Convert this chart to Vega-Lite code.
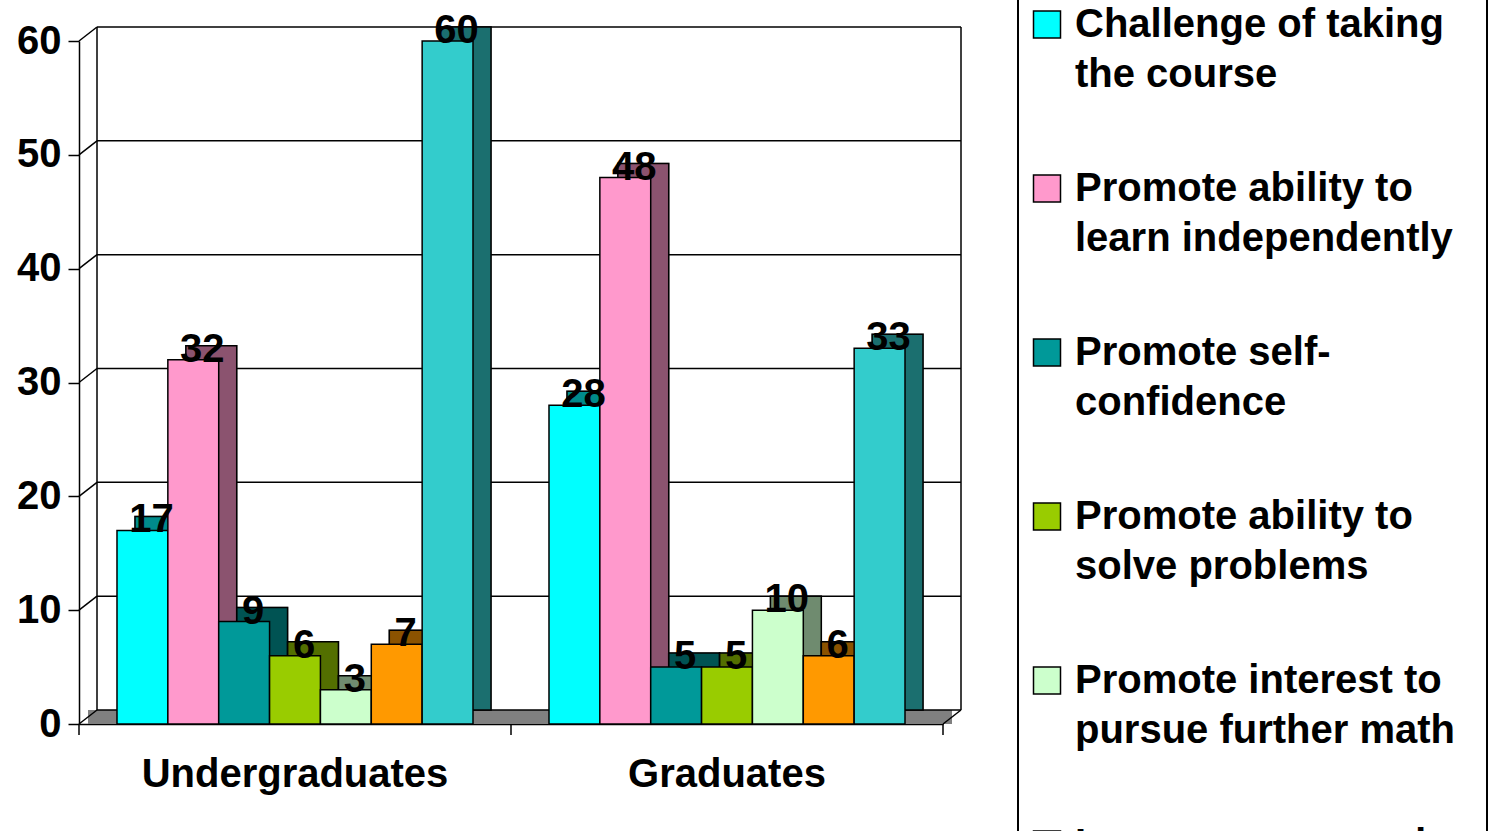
{
  "$schema": "https://vega.github.io/schema/vega-lite/v6.json",
  "autosize": {"type": "none"},
  "padding": {"left": 79, "top": 41, "right": 553, "bottom": 107},
  "width": 864,
  "height": 683,
  "background": "white",
  "config": {
    "view": {"stroke": null},
    "font": "Liberation Sans",
    "axis": {"labelFont": "Liberation Sans", "labelFontWeight": "bold", "labelFontSize": 40, "labelColor": "black", "labelLimit": 1000, "domainColor": "black", "domainWidth": 1.5, "tickColor": "black", "tickWidth": 1.5, "title": null, "grid": false},
    "legend": {"labelFont": "Liberation Sans", "labelFontWeight": "bold", "labelFontSize": 40, "labelColor": "black", "labelLimit": 413}
  },
  "datasets": {
    "bars": [
      {"group": "Undergraduates", "reason": "Challenge of taking the course", "value": 17},
      {"group": "Undergraduates", "reason": "Promote ability to learn independently", "value": 32},
      {"group": "Undergraduates", "reason": "Promote self-confidence", "value": 9},
      {"group": "Undergraduates", "reason": "Promote ability to solve problems", "value": 6},
      {"group": "Undergraduates", "reason": "Promote interest to pursue further math", "value": 3},
      {"group": "Undergraduates", "reason": "Improve your grades", "value": 7},
      {"group": "Undergraduates", "reason": "Required for the degree", "value": 60},
      {"group": "Graduates", "reason": "Challenge of taking the course", "value": 28},
      {"group": "Graduates", "reason": "Promote ability to learn independently", "value": 48},
      {"group": "Graduates", "reason": "Promote self-confidence", "value": 5},
      {"group": "Graduates", "reason": "Promote ability to solve problems", "value": 5},
      {"group": "Graduates", "reason": "Promote interest to pursue further math", "value": 10},
      {"group": "Graduates", "reason": "Improve your grades", "value": 6},
      {"group": "Graduates", "reason": "Required for the degree", "value": 33}
    ],
    "grid": [{"v": 0}, {"v": 10}, {"v": 20}, {"v": 30}, {"v": 40}, {"v": 50}, {"v": 60}],
    "groups": [{"group": "Undergraduates"}, {"group": "Graduates"}]
  },
  "resolve": {"scale": {"xOffset": "independent"}},
  "layer": [
    {
      "data": {"name": "grid"},
      "mark": {"type": "rect", "color": "#808080", "xOffset": 9, "x2Offset": 9, "y2Offset": -14},
      "encoding": {
        "x": {"value": 0},
        "x2": {"value": "width"},
        "y": {"datum": 0, "type": "quantitative", "scale": {"domain": [0, 60], "nice": false, "zero": true}},
        "y2": {"datum": 0}
      },
      "transform": [{"filter": "datum.v == 0"}]
    },
    {
      "data": {"name": "grid"},
      "mark": {"type": "rule", "color": "black", "strokeWidth": 1.5, "xOffset": 18, "x2Offset": 18, "yOffset": -14},
      "encoding": {
        "x": {"value": 0},
        "x2": {"value": "width"},
        "y": {"field": "v", "type": "quantitative"}
      }
    },
    {
      "data": {"name": "grid"},
      "mark": {"type": "rule", "color": "black", "strokeWidth": 1.5, "x2Offset": 18, "y2Offset": -14},
      "encoding": {
        "x": {"value": 0},
        "x2": {"value": 0},
        "y": {"field": "v", "type": "quantitative"},
        "y2": {"field": "v"}
      }
    },
    {
      "data": {"name": "grid"},
      "transform": [{"filter": "datum.v == 0"}],
      "mark": {"type": "rule", "color": "black", "strokeWidth": 1.5, "xOffset": 18, "yOffset": -14, "y2Offset": -14},
      "encoding": {
        "x": {"value": 0},
        "y": {"datum": 60, "type": "quantitative"},
        "y2": {"datum": 0}
      }
    },
    {
      "data": {"name": "grid"},
      "transform": [{"filter": "datum.v == 0"}],
      "mark": {"type": "rule", "color": "black", "strokeWidth": 1.5, "xOffset": 18, "yOffset": -14, "y2Offset": -14},
      "encoding": {
        "x": {"value": "width"},
        "y": {"datum": 60, "type": "quantitative"},
        "y2": {"datum": 0}
      }
    },
    {
      "data": {"name": "grid"},
      "transform": [{"filter": "datum.v == 0"}],
      "mark": {"type": "rule", "color": "black", "strokeWidth": 1.5, "x2Offset": 18, "y2Offset": -14},
      "encoding": {
        "x": {"value": "width"},
        "x2": {"value": "width"},
        "y": {"datum": 0, "type": "quantitative"},
        "y2": {"datum": 0}
      }
    },
    {
      "data": {"name": "bars"},
      "mark": {"type": "bar", "stroke": "black", "strokeWidth": 1.5, "yOffset": -14, "y2Offset": -14},
      "encoding": {
        "x": {"field": "group", "type": "nominal", "scale": {"domain": ["Undergraduates", "Graduates"], "paddingInner": 0, "paddingOuter": 0}},
        "xOffset": {"field": "reason", "type": "nominal", "scale": {"domain": ["Challenge of taking the course", "Promote ability to learn independently", "Promote self-confidence", "Promote ability to solve problems", "Promote interest to pursue further math", "Improve your grades", "Required for the degree"], "paddingInner": 0, "paddingOuter": 0.747, "align": 0.737}},
        "y": {"field": "value", "type": "quantitative"},
        "color": {"field": "reason", "type": "nominal"}
      }
    },
    {
      "data": {"name": "bars"},
      "mark": {"type": "bar", "color": "black", "opacity": 0.45, "stroke": "black", "strokeWidth": 1.5, "yOffset": -14, "y2Offset": -14},
      "encoding": {
        "x": {"field": "group", "type": "nominal"},
        "xOffset": {"field": "reason", "type": "nominal", "scale": {"domain": ["Challenge of taking the course", "Promote ability to learn independently", "Promote self-confidence", "Promote ability to solve problems", "Promote interest to pursue further math", "Improve your grades", "Required for the degree"], "paddingInner": 0, "paddingOuter": 0.747, "align": 0.737}},
        "y": {"field": "value", "type": "quantitative"}
      }
    },
    {
      "data": {"name": "bars"},
      "mark": {"type": "bar", "stroke": "black", "strokeWidth": 1.5},
      "encoding": {
        "x": {"field": "group", "type": "nominal", "axis": {"ticks": false, "labelPadding": 30, "labelAngle": 0, "labelAlign": "center", "labelBaseline": "top"}},
        "xOffset": {"field": "reason", "type": "nominal", "scale": {"domain": ["Challenge of taking the course", "Promote ability to learn independently", "Promote self-confidence", "Promote ability to solve problems", "Promote interest to pursue further math", "Improve your grades", "Required for the degree"], "paddingInner": 0, "paddingOuter": 0.747}},
        "y": {"field": "value", "type": "quantitative", "axis": {"values": [0, 10, 20, 30, 40, 50, 60], "tickSize": 11, "labelPadding": 7}},
        "color": {
          "field": "reason", "type": "nominal",
          "scale": {"domain": ["Challenge of taking the course", "Promote ability to learn independently", "Promote self-confidence", "Promote ability to solve problems", "Promote interest to pursue further math", "Improve your grades", "Required for the degree"], "range": ["#00FFFF", "#FF99CC", "#009999", "#99CC00", "#CCFFCC", "#FF9900", "#33CCCC"]},
          "legend": {
            "title": null, "orient": "none", "legendX": 939, "legendY": -52,
            "direction": "vertical", "columns": 1,
            "padding": 15.5, "strokeColor": "black",
            "symbolType": "square", "symbolSize": 729, "symbolStrokeColor": "black", "symbolStrokeWidth": 1.5, "symbolOpacity": 1, "symbolOffset": -6.5,
            "labelOffset": 8, "rowPadding": 74,
            "labelExpr": "datum.label == 'Challenge of taking the course' ? ['Challenge of taking', 'the course'] : datum.label == 'Promote ability to learn independently' ? ['Promote ability to', 'learn independently'] : datum.label == 'Promote self-confidence' ? ['Promote self-', 'confidence'] : datum.label == 'Promote ability to solve problems' ? ['Promote ability to', 'solve problems'] : datum.label == 'Promote interest to pursue further math' ? ['Promote interest to', 'pursue further math'] : datum.label == 'Required for the degree' ? ['Required for the', 'degree'] : datum.label",
            "encode": {
              "labels": {"update": {"lineHeight": {"value": 50}}},
              "legend": {"update": {"strokeWidth": {"value": 2}}}
            }
          }
        }
      }
    },
    {
      "data": {"name": "groups"},
      "mark": {"type": "rule", "color": "black", "strokeWidth": 1.5, "y2Offset": 11},
      "encoding": {
        "x": {"field": "group", "type": "nominal", "bandPosition": 0},
        "y": {"value": "height"},
        "y2": {"value": "height"}
      }
    },
    {
      "data": {"name": "grid"},
      "transform": [{"filter": "datum.v == 0"}],
      "mark": {"type": "rule", "color": "black", "strokeWidth": 1.5, "y2Offset": 11},
      "encoding": {
        "x": {"value": "width"},
        "y": {"value": "height"},
        "y2": {"value": "height"}
      }
    },
    {
      "data": {"name": "bars"},
      "mark": {"type": "text", "font": "Liberation Sans", "fontWeight": "bold", "fontSize": 40, "color": "black", "baseline": "alphabetic", "dx": 9, "dy": 2},
      "encoding": {
        "x": {"field": "group", "type": "nominal"},
        "xOffset": {"field": "reason", "type": "nominal", "scale": {"type": "band", "domain": ["Challenge of taking the course", "Promote ability to learn independently", "Promote self-confidence", "Promote ability to solve problems", "Promote interest to pursue further math", "Improve your grades", "Required for the degree"], "paddingInner": 0, "paddingOuter": 0.747}},
        "y": {"field": "value", "type": "quantitative"},
        "text": {"field": "value", "type": "quantitative"}
      }
    }
  ]
}
